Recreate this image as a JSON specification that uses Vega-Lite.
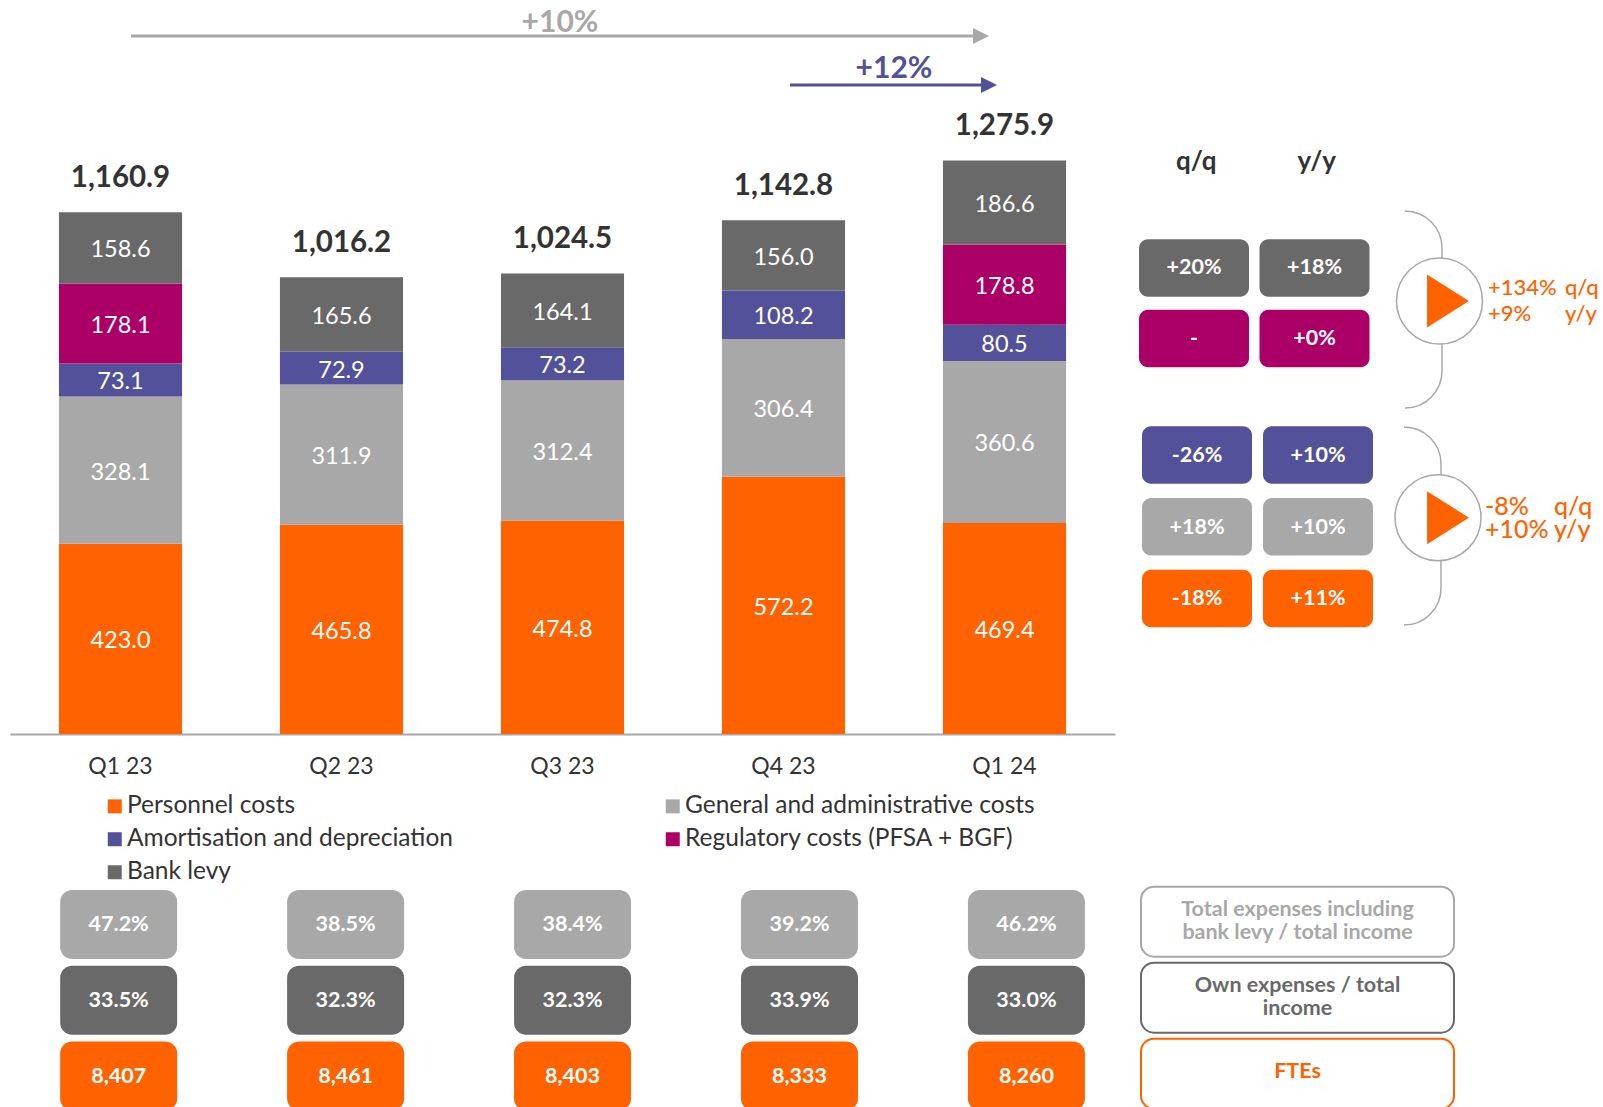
{
"$schema":"https://vega.github.io/schema/vega-lite/v6.json",
"padding":0,
"autosize":{"type":"pad"},
"background":"white",
"config":{"font":"Lato","view":{"stroke":null},"text":{"font":"Lato"}},
"datasets":{
"segments":[
{"quarter":"Q1 23","category":"Personnel costs","rank":1,"value":423.0},
{"quarter":"Q1 23","category":"General and administrative costs","rank":2,"value":328.1},
{"quarter":"Q1 23","category":"Amortisation and depreciation","rank":3,"value":73.1},
{"quarter":"Q1 23","category":"Regulatory costs (PFSA + BGF)","rank":4,"value":178.1},
{"quarter":"Q1 23","category":"Bank levy","rank":5,"value":158.6},
{"quarter":"Q2 23","category":"Personnel costs","rank":1,"value":465.8},
{"quarter":"Q2 23","category":"General and administrative costs","rank":2,"value":311.9},
{"quarter":"Q2 23","category":"Amortisation and depreciation","rank":3,"value":72.9},
{"quarter":"Q2 23","category":"Bank levy","rank":5,"value":165.6},
{"quarter":"Q3 23","category":"Personnel costs","rank":1,"value":474.8},
{"quarter":"Q3 23","category":"General and administrative costs","rank":2,"value":312.4},
{"quarter":"Q3 23","category":"Amortisation and depreciation","rank":3,"value":73.2},
{"quarter":"Q3 23","category":"Bank levy","rank":5,"value":164.1},
{"quarter":"Q4 23","category":"Personnel costs","rank":1,"value":572.2},
{"quarter":"Q4 23","category":"General and administrative costs","rank":2,"value":306.4},
{"quarter":"Q4 23","category":"Amortisation and depreciation","rank":3,"value":108.2},
{"quarter":"Q4 23","category":"Bank levy","rank":5,"value":156.0},
{"quarter":"Q1 24","category":"Personnel costs","rank":1,"value":469.4},
{"quarter":"Q1 24","category":"General and administrative costs","rank":2,"value":360.6},
{"quarter":"Q1 24","category":"Amortisation and depreciation","rank":3,"value":80.5},
{"quarter":"Q1 24","category":"Regulatory costs (PFSA + BGF)","rank":4,"value":178.8},
{"quarter":"Q1 24","category":"Bank levy","rank":5,"value":186.6}
],
"totals":[
{"quarter":"Q1 23","total":1160.9},
{"quarter":"Q2 23","total":1016.2},
{"quarter":"Q3 23","total":1024.5},
{"quarter":"Q4 23","total":1142.8},
{"quarter":"Q1 24","total":1275.9}
],
"changesTop":[
{"category":"Bank levy","period":"q/q","change":"+20%"},
{"category":"Bank levy","period":"y/y","change":"+18%"},
{"category":"Regulatory costs (PFSA + BGF)","period":"q/q","change":"-"},
{"category":"Regulatory costs (PFSA + BGF)","period":"y/y","change":"+0%"}
],
"changesOwn":[
{"category":"Amortisation and depreciation","period":"q/q","change":"-26%"},
{"category":"Amortisation and depreciation","period":"y/y","change":"+10%"},
{"category":"General and administrative costs","period":"q/q","change":"+18%"},
{"category":"General and administrative costs","period":"y/y","change":"+10%"},
{"category":"Personnel costs","period":"q/q","change":"-18%"},
{"category":"Personnel costs","period":"y/y","change":"+11%"}
],
"summaryTop":[
{"period":"q/q","kind":"change","label":"+134%"},
{"period":"q/q","kind":"name","label":"q/q"},
{"period":"y/y","kind":"change","label":"+9%"},
{"period":"y/y","kind":"name","label":"y/y"}
],
"summaryOwn":[
{"period":"q/q","kind":"change","label":"-8%"},
{"period":"q/q","kind":"name","label":"q/q"},
{"period":"y/y","kind":"change","label":"+10%"},
{"period":"y/y","kind":"name","label":"y/y"}
],
"kpis":[
{"quarter":"Q1 23","metric":"Total expenses including bank levy / total income","shown":"47.2%"},
{"quarter":"Q2 23","metric":"Total expenses including bank levy / total income","shown":"38.5%"},
{"quarter":"Q3 23","metric":"Total expenses including bank levy / total income","shown":"38.4%"},
{"quarter":"Q4 23","metric":"Total expenses including bank levy / total income","shown":"39.2%"},
{"quarter":"Q1 24","metric":"Total expenses including bank levy / total income","shown":"46.2%"},
{"quarter":"Q1 23","metric":"Own expenses / total income","shown":"33.5%"},
{"quarter":"Q2 23","metric":"Own expenses / total income","shown":"32.3%"},
{"quarter":"Q3 23","metric":"Own expenses / total income","shown":"32.3%"},
{"quarter":"Q4 23","metric":"Own expenses / total income","shown":"33.9%"},
{"quarter":"Q1 24","metric":"Own expenses / total income","shown":"33.0%"},
{"quarter":"Q1 23","metric":"FTEs","shown":"8,407"},
{"quarter":"Q2 23","metric":"FTEs","shown":"8,461"},
{"quarter":"Q3 23","metric":"FTEs","shown":"8,403"},
{"quarter":"Q4 23","metric":"FTEs","shown":"8,333"},
{"quarter":"Q1 24","metric":"FTEs","shown":"8,260"}
],
"kpiNames":[
{"metric":"Total expenses including bank levy / total income","label":"Total expenses including\nbank levy / total income"},
{"metric":"Own expenses / total income","label":"Own expenses / total\nincome"},
{"metric":"FTEs","label":"FTEs"}
]
},
"bounds":"flush",
"spacing":880,
"vconcat":[
{"bounds":"flush","spacing":0,"hconcat":[
{"width":1115,"height":734,
"resolve":{"scale":{"x":"independent"},"axis":{"x":"independent"}},
"layer":[
{"data":{"name":"segments"},"mark":{"type":"bar"},
"encoding":{
"x":{"field":"quarter","type":"nominal","sort":null,"title":null,"scale":{"domain":["Q1 23","Q2 23","Q3 23","Q4 23","Q1 24"],"range":[10,1115],"paddingInner":0.443,"paddingOuter":0.2215},"axis":{"labelAngle":0,"labelFontSize":23,"labelColor":"#333333","labelPadding":21,"ticks":false,"domainColor":"#A8A8A8","domainWidth":2,"title":null}},
"y":{"field":"value","type":"quantitative","stack":"zero","scale":{"domain":[0,1633],"nice":false},"axis":null},
"order":{"field":"rank","type":"quantitative"},
"color":{"field":"category","type":"nominal","scale":{"domain":["Personnel costs","General and administrative costs","Amortisation and depreciation","Regulatory costs (PFSA + BGF)","Bank levy"],"range":["#FF6200","#A8A8A8","#525199","#AB0066","#696969"]},
"legend":{"orient":"none","legendX":102.5,"legendY":794,"direction":"horizontal","columns":2,"title":null,"symbolType":"square","symbolSize":196,"labelFontSize":24.5,"labelColor":"#333333","columnPadding":207,"rowPadding":8,"labelOffset":0,"labelLimit":600,"symbolStrokeWidth":0}}
}},
{"data":{"name":"segments"},"mark":{"type":"text","color":"white","fontSize":23.5,"dy":2.5},
"encoding":{
"x":{"field":"quarter","type":"nominal","sort":null,"scale":{"domain":["Q1 23","Q2 23","Q3 23","Q4 23","Q1 24"],"range":[10,1115],"paddingInner":0.443,"paddingOuter":0.2215},"axis":null},
"y":{"field":"value","type":"quantitative","stack":"zero","bandPosition":0.5},
"order":{"field":"rank","type":"quantitative"},
"text":{"field":"value","type":"quantitative","format":".1f"}
}},
{"data":{"name":"totals"},"mark":{"type":"text","color":"#333333","fontSize":29.5,"fontWeight":700,"dy":-34.5},
"encoding":{
"x":{"field":"quarter","type":"nominal","sort":null,"scale":{"domain":["Q1 23","Q2 23","Q3 23","Q4 23","Q1 24"],"range":[10,1115],"paddingInner":0.443,"paddingOuter":0.2215},"axis":null},
"y":{"field":"total","type":"quantitative"},
"text":{"field":"total","type":"quantitative","format":",.1f"}
}},
{"data":{"values":[{"label":"+10%"}]},"mark":{"type":"rule","color":"#A8A8A8","strokeWidth":3},
"encoding":{"x":{"datum":131,"type":"quantitative","scale":{"domain":[0,1115]},"axis":null},"x2":{"datum":975},"y":{"datum":1553}}},
{"data":{"values":[{"label":"+10%"}]},"mark":{"type":"point","filled":true,"opacity":1,"color":"#A8A8A8","shape":"M-1,-1L1,0L-1,1Z","size":256},
"encoding":{"x":{"datum":981,"type":"quantitative","scale":{"domain":[0,1115]},"axis":null},"y":{"datum":1553}}},
{"data":{"values":[{"label":"+10%"}]},"mark":{"type":"text","color":"#A8A8A8","fontSize":30,"fontWeight":700,"dy":2},
"encoding":{"x":{"datum":560,"type":"quantitative","scale":{"domain":[0,1115]},"axis":null},"y":{"datum":1587},"text":{"field":"label"}}},
{"data":{"values":[{"label":"+12%"}]},"mark":{"type":"rule","color":"#525199","strokeWidth":3},
"encoding":{"x":{"datum":790,"type":"quantitative","scale":{"domain":[0,1115]},"axis":null},"x2":{"datum":983},"y":{"datum":1444}}},
{"data":{"values":[{"label":"+12%"}]},"mark":{"type":"point","filled":true,"opacity":1,"color":"#525199","shape":"M-1,-1L1,0L-1,1Z","size":256},
"encoding":{"x":{"datum":989,"type":"quantitative","scale":{"domain":[0,1115]},"axis":null},"y":{"datum":1444}}},
{"data":{"values":[{"label":"+12%"}]},"mark":{"type":"text","color":"#525199","fontSize":30,"fontWeight":700,"dy":2},
"encoding":{"x":{"datum":894,"type":"quantitative","scale":{"domain":[0,1115]},"axis":null},"y":{"datum":1485},"text":{"field":"label"}}}
]},
{"bounds":"flush","spacing":0,"vconcat":[
{"width":488,"height":415,
"resolve":{"scale":{"x":"independent","y":"independent"}},
"layer":[
{"data":{"name":"changesTop"},"mark":{"type":"rect","width":110,"height":57.5,"cornerRadius":9},
"encoding":{
"x":{"field":"period","type":"nominal","axis":null,"scale":{"type":"band","domain":["q/q","y/y"],"range":[18.75,259.75],"padding":0}},
"y":{"field":"category","type":"nominal","axis":null,"scale":{"type":"band","domain":["Bank levy","Regulatory costs (PFSA + BGF)"],"range":[232.7,373.9],"padding":0}},
"color":{"field":"category","type":"nominal","legend":null,"scale":{"domain":["Personnel costs","General and administrative costs","Amortisation and depreciation","Regulatory costs (PFSA + BGF)","Bank levy"],"range":["#FF6200","#A8A8A8","#525199","#AB0066","#696969"]}}
}},
{"data":{"name":"changesTop"},"mark":{"type":"text","color":"white","fontSize":21.5,"fontWeight":700},
"encoding":{
"x":{"field":"period","type":"nominal","axis":null,"scale":{"type":"band","domain":["q/q","y/y"],"range":[18.75,259.75],"padding":0}},
"y":{"field":"category","type":"nominal","axis":null,"scale":{"type":"band","domain":["Bank levy","Regulatory costs (PFSA + BGF)"],"range":[232.7,373.9],"padding":0}},
"text":{"field":"change"}
}},
{"data":{"values":[{"period":"q/q"},{"period":"y/y"}]},"mark":{"type":"text","color":"#333333","fontSize":26,"fontWeight":700},
"encoding":{
"x":{"field":"period","type":"nominal","axis":null,"scale":{"type":"band","domain":["q/q","y/y"],"range":[21,262],"padding":0}},
"y":{"datum":162,"type":"quantitative","axis":null,"scale":{"domain":[0,415],"range":[0,415]}},
"text":{"field":"period"}
}},
{"data":{"values":[{"part":"brace"}]},"mark":{"type":"arc","theta":0,"theta2":1.5708,"radius":37,"radius2":37,"stroke":"#A8A8A8","strokeWidth":1.5,"fillOpacity":0},
"encoding":{"x":{"datum":290,"type":"quantitative","axis":null,"scale":{"domain":[0,488]}},"y":{"datum":248,"type":"quantitative","axis":null,"scale":{"domain":[0,415],"range":[0,415]}}}},
{"data":{"values":[{"part":"brace"}]},"mark":{"type":"arc","theta":1.5708,"theta2":3.1416,"radius":37,"radius2":37,"stroke":"#A8A8A8","strokeWidth":1.5,"fillOpacity":0},
"encoding":{"x":{"datum":290,"type":"quantitative","axis":null,"scale":{"domain":[0,488]}},"y":{"datum":371,"type":"quantitative","axis":null,"scale":{"domain":[0,415],"range":[0,415]}}}},
{"data":{"values":[{"part":"brace"}]},"mark":{"type":"rule","color":"#A8A8A8","strokeWidth":1.5},
"encoding":{"x":{"datum":327,"type":"quantitative","axis":null,"scale":{"domain":[0,488]}},"y":{"datum":248,"type":"quantitative","axis":null,"scale":{"domain":[0,415],"range":[0,415]}},"y2":{"datum":371}}},
{"data":{"values":[{"part":"circle"}]},"mark":{"type":"point","shape":"circle","size":7396,"filled":true,"fill":"white","stroke":"#A8A8A8","strokeWidth":1.5,"opacity":1},
"encoding":{"x":{"datum":324.5,"type":"quantitative","axis":null,"scale":{"domain":[0,488]}},"y":{"datum":301,"type":"quantitative","axis":null,"scale":{"domain":[0,415],"range":[0,415]}}}},
{"data":{"values":[{"part":"play"}]},"mark":{"type":"point","shape":"M-0.79,-1L0.79,0L-0.79,1Z","size":2809,"filled":true,"color":"#FF6200","opacity":1},
"encoding":{"x":{"datum":333,"type":"quantitative","axis":null,"scale":{"domain":[0,488]}},"y":{"datum":301,"type":"quantitative","axis":null,"scale":{"domain":[0,415],"range":[0,415]}}}},
{"data":{"name":"summaryTop"},"mark":{"type":"text","color":"#FF6200","fontSize":22,"fontWeight":500,"align":"left"},
"encoding":{
"x":{"field":"kind","type":"nominal","axis":null,"scale":{"type":"point","domain":["change","name"],"range":[373,450],"padding":0}},
"y":{"field":"period","type":"nominal","axis":null,"scale":{"type":"point","domain":["q/q","y/y"],"range":[288,314],"padding":0}},
"text":{"field":"label"}
}}
]},
{"width":488,"height":319,
"resolve":{"scale":{"x":"independent","y":"independent"}},
"layer":[
{"data":{"name":"changesOwn"},"mark":{"type":"rect","width":110,"height":57.5,"cornerRadius":9},
"encoding":{
"x":{"field":"period","type":"nominal","axis":null,"scale":{"type":"band","domain":["q/q","y/y"],"range":[21.5,263.5],"padding":0}},
"y":{"field":"category","type":"nominal","axis":null,"scale":{"type":"band","domain":["Amortisation and depreciation","General and administrative costs","Personnel costs"],"range":[4.1,219.3],"padding":0}},
"color":{"field":"category","type":"nominal","legend":null,"scale":{"domain":["Personnel costs","General and administrative costs","Amortisation and depreciation","Regulatory costs (PFSA + BGF)","Bank levy"],"range":["#FF6200","#A8A8A8","#525199","#AB0066","#696969"]}}
}},
{"data":{"name":"changesOwn"},"mark":{"type":"text","color":"white","fontSize":21.5,"fontWeight":700,"dy":1},
"encoding":{
"x":{"field":"period","type":"nominal","axis":null,"scale":{"type":"band","domain":["q/q","y/y"],"range":[21.5,263.5],"padding":0}},
"y":{"field":"category","type":"nominal","axis":null,"scale":{"type":"band","domain":["Amortisation and depreciation","General and administrative costs","Personnel costs"],"range":[4.1,219.3],"padding":0}},
"text":{"field":"change"}
}},
{"data":{"values":[{"part":"brace"}]},"mark":{"type":"arc","theta":0,"theta2":1.5708,"radius":37,"radius2":37,"stroke":"#A8A8A8","strokeWidth":1.5,"fillOpacity":0},
"encoding":{"x":{"datum":289,"type":"quantitative","axis":null,"scale":{"domain":[0,488]}},"y":{"datum":49,"type":"quantitative","axis":null,"scale":{"domain":[0,319],"range":[0,319]}}}},
{"data":{"values":[{"part":"brace"}]},"mark":{"type":"arc","theta":1.5708,"theta2":3.1416,"radius":37,"radius2":37,"stroke":"#A8A8A8","strokeWidth":1.5,"fillOpacity":0},
"encoding":{"x":{"datum":289,"type":"quantitative","axis":null,"scale":{"domain":[0,488]}},"y":{"datum":173,"type":"quantitative","axis":null,"scale":{"domain":[0,319],"range":[0,319]}}}},
{"data":{"values":[{"part":"brace"}]},"mark":{"type":"rule","color":"#A8A8A8","strokeWidth":1.5},
"encoding":{"x":{"datum":326,"type":"quantitative","axis":null,"scale":{"domain":[0,488]}},"y":{"datum":49,"type":"quantitative","axis":null,"scale":{"domain":[0,319],"range":[0,319]}},"y2":{"datum":173}}},
{"data":{"values":[{"part":"circle"}]},"mark":{"type":"point","shape":"circle","size":7396,"filled":true,"fill":"white","stroke":"#A8A8A8","strokeWidth":1.5,"opacity":1},
"encoding":{"x":{"datum":323,"type":"quantitative","axis":null,"scale":{"domain":[0,488]}},"y":{"datum":102.7,"type":"quantitative","axis":null,"scale":{"domain":[0,319],"range":[0,319]}}}},
{"data":{"values":[{"part":"play"}]},"mark":{"type":"point","shape":"M-0.79,-1L0.79,0L-0.79,1Z","size":2809,"filled":true,"color":"#FF6200","opacity":1},
"encoding":{"x":{"datum":333,"type":"quantitative","axis":null,"scale":{"domain":[0,488]}},"y":{"datum":102.7,"type":"quantitative","axis":null,"scale":{"domain":[0,319],"range":[0,319]}}}},
{"data":{"name":"summaryOwn"},"mark":{"type":"text","color":"#FF6200","fontSize":25,"fontWeight":500,"align":"left"},
"encoding":{
"x":{"field":"kind","type":"nominal","axis":null,"scale":{"type":"point","domain":["change","name"],"range":[370,439],"padding":0}},
"y":{"field":"period","type":"nominal","axis":null,"scale":{"type":"point","domain":["q/q","y/y"],"range":[92,115],"padding":0}},
"text":{"field":"label"}
}}
]}
]}
]},
{"bounds":"flush","spacing":0,"hconcat":[
{"width":1135,"height":227,
"layer":[
{"data":{"name":"kpis"},"mark":{"type":"rect","width":117,"height":69,"cornerRadius":12,"clip":true},
"encoding":{
"x":{"field":"quarter","type":"nominal","sort":null,"axis":null,"scale":{"type":"band","domain":["Q1 23","Q2 23","Q3 23","Q4 23","Q1 24"],"range":[5.2,1139.9],"padding":0}},
"y":{"field":"metric","type":"nominal","axis":null,"scale":{"type":"band","domain":["Total expenses including bank levy / total income","Own expenses / total income","FTEs"],"range":[6.6,233.9],"padding":0}},
"color":{"field":"metric","type":"nominal","legend":null,"scale":{"domain":["Total expenses including bank levy / total income","Own expenses / total income","FTEs"],"range":["#A8A8A8","#696969","#FF6200"]}}
}},
{"data":{"name":"kpis"},"mark":{"type":"text","color":"white","fontSize":21.5,"fontWeight":700,"dy":1},
"encoding":{
"x":{"field":"quarter","type":"nominal","sort":null,"axis":null,"scale":{"type":"band","domain":["Q1 23","Q2 23","Q3 23","Q4 23","Q1 24"],"range":[5.2,1139.9],"padding":0}},
"y":{"field":"metric","type":"nominal","axis":null,"scale":{"type":"band","domain":["Total expenses including bank levy / total income","Own expenses / total income","FTEs"],"range":[6.6,233.9],"padding":0}},
"text":{"field":"shown"}
}}
]},
{"width":468,"height":227,
"layer":[
{"data":{"name":"kpiNames"},"mark":{"type":"rect","width":313,"height":70,"cornerRadius":13,"clip":true,"fill":"white","strokeWidth":2},
"encoding":{
"x":{"datum":"label","type":"nominal","axis":null,"scale":{"type":"band","domain":["label"],"range":[2.5,322.5],"padding":0}},
"y":{"field":"metric","type":"nominal","axis":null,"scale":{"type":"band","domain":["Total expenses including bank levy / total income","Own expenses / total income","FTEs"],"range":[3.7,231.7],"padding":0}},
"stroke":{"field":"metric","type":"nominal","legend":null,"scale":{"domain":["Total expenses including bank levy / total income","Own expenses / total income","FTEs"],"range":["#A8A8A8","#696969","#FF6200"]}}
}},
{"data":{"name":"kpiNames"},"transform":[{"filter":"datum.metric !== 'FTEs'"}],"mark":{"type":"text","fontSize":21.5,"fontWeight":700,"lineBreak":"\n","lineHeight":23,"dy":-12},
"encoding":{
"x":{"datum":"label","type":"nominal","axis":null,"scale":{"type":"band","domain":["label"],"range":[2.5,322.5],"padding":0}},
"y":{"field":"metric","type":"nominal","axis":null,"scale":{"type":"band","domain":["Total expenses including bank levy / total income","Own expenses / total income","FTEs"],"range":[3.7,231.7],"padding":0}},
"color":{"field":"metric","type":"nominal","legend":null,"scale":{"domain":["Total expenses including bank levy / total income","Own expenses / total income","FTEs"],"range":["#A8A8A8","#696969","#FF6200"]}},
"text":{"field":"label"}
}},
{"data":{"name":"kpiNames"},"transform":[{"filter":"datum.metric === 'FTEs'"}],"mark":{"type":"text","fontSize":21.5,"fontWeight":700,"dy":-2},
"encoding":{
"x":{"datum":"label","type":"nominal","axis":null,"scale":{"type":"band","domain":["label"],"range":[2.5,322.5],"padding":0}},
"y":{"field":"metric","type":"nominal","axis":null,"scale":{"type":"band","domain":["Total expenses including bank levy / total income","Own expenses / total income","FTEs"],"range":[3.7,231.7],"padding":0}},
"color":{"field":"metric","type":"nominal","legend":null,"scale":{"domain":["Total expenses including bank levy / total income","Own expenses / total income","FTEs"],"range":["#A8A8A8","#696969","#FF6200"]}},
"text":{"field":"label"}
}}
]}
]}
],
"resolve":{"scale":{"color":"independent","stroke":"independent"},"legend":{"color":"independent"}}
}
